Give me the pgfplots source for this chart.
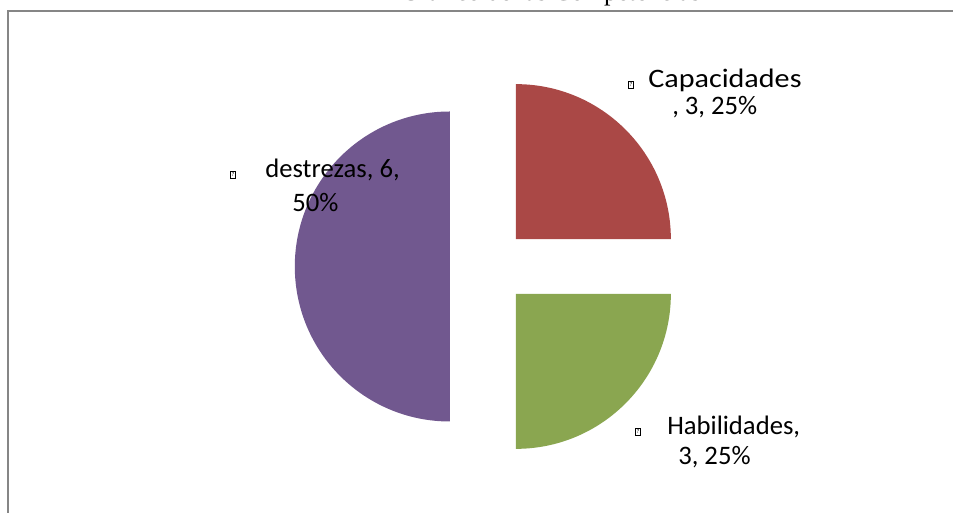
\documentclass[border=0pt]{standalone}
\usepackage{pgfplots}
\pgfplotsset{compat=1.18}
\usepackage{pgfplotstable}
\usepackage{fontspec}
\setmainfont{Carlito}
\newfontfamily\titlefont{Liberation Serif}

\definecolor{capred}{HTML}{AA4846}
\definecolor{habgreen}{HTML}{8AA650}
\definecolor{despurple}{HTML}{71588F}
\definecolor{framegray}{HTML}{868686}

% values of the pie, clockwise from 12 o'clock
\pgfplotstableread{
name value color
Capacidades 3 capred
Habilidades 3 habgreen
destrezas 6 despurple
}\piedata

% missing-glyph box shown in front of each label
\newcommand\qbox{{\fboxsep=0.6pt\fboxrule=0.45pt\fbox{\fontsize{4.5}{5}\selectfont ?}}}
\tikzset{lbl/.style={anchor=base west, inner sep=0pt, font=\fontsize{20}{22}\selectfont}}

\begin{document}
\begin{tikzpicture}
\begin{axis}[
  scale only axis,
  width=714.75pt, height=384.75pt,
  xmin=0, xmax=953, ymin=0, ymax=513,
  hide axis, clip=false,
]
\coordinate (bl) at (axis cs:0,0);
\coordinate (tr) at (axis cs:953,513);

% frame of the chart area
\draw[framegray, line width=0.9pt] (axis cs:8,-10) -- (axis cs:8,502) -- (axis cs:970,502);

% title (mostly outside the visible area)
\node[anchor=base, font=\titlefont\fontsize{19.5}{22}\selectfont] at (axis cs:551,512) {Gráfico de las Competencias};

% pie slices
\def\piecx{488.5}\def\piecy{246.5}\def\pieexpl{38.7}
\def\pietotal{12}
\def\piecum{0}
\pgfplotsforeachungrouped \i in {0,1,2}{%
  \pgfplotstablegetelem{\i}{value}\of\piedata \let\pieval\pgfplotsretval
  \pgfplotstablegetelem{\i}{color}\of\piedata \let\piecol\pgfplotsretval
  \pgfmathsetmacro\pieA{90-\piecum/\pietotal*360}%
  \pgfmathsetmacro\pieB{90-(\piecum+\pieval)/\pietotal*360}%
  \pgfmathsetmacro\pieM{(\pieA+\pieB)/2}%
  \pgfmathsetmacro\pieX{\piecx+\pieexpl*cos(\pieM)}%
  \pgfmathsetmacro\pieY{\piecy+\pieexpl*sin(\pieM)}%
  \edef\doslice{\noexpand\fill[\piecol] (axis cs:\pieX,\pieY) -- ++(\pieA:116.25pt)
    arc[start angle=\pieA, end angle=\pieB, radius=116.25pt] -- cycle;}%
  \doslice
  \pgfmathsetmacro\piecum{\piecum+\pieval}%
}

% data labels
\node[lbl] at (axis cs:628,426) {\qbox};
\node[lbl] at (axis cs:648,425) {\scalebox{1.13}[1]{Capacidades}};
\node[lbl] at (axis cs:672,398) {, 3, 25\%};
\node[lbl] at (axis cs:230,336) {\qbox};
\node[lbl] at (axis cs:265,335) {destrezas, 6,};
\node[lbl] at (axis cs:292,301) {50\%};
\node[lbl] at (axis cs:635,79) {\qbox};
\node[lbl] at (axis cs:667,78) {Habilidades,};
\node[lbl] at (axis cs:678,48) {3, 25\%};
\end{axis}
\pgfresetboundingbox
\path[use as bounding box] (bl) rectangle (tr);
\end{tikzpicture}
\end{document}
